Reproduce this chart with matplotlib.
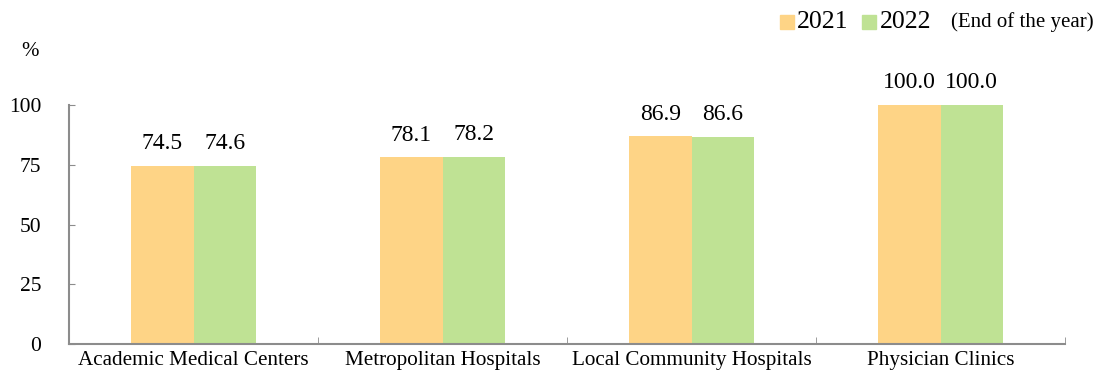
import matplotlib
matplotlib.use("Agg")
import matplotlib.pyplot as plt
import numpy as np
from matplotlib.patches import Rectangle

categories = ["Academic Medical Centers", "Metropolitan Hospitals",
              "Local Community Hospitals", "Physician Clinics"]
values_2021 = [74.5, 78.1, 86.9, 100.0]
values_2022 = [74.6, 78.2, 86.6, 100.0]
series_labels = ["2021", "2022"]
y_ticks = [0, 25, 50, 75, 100]

c2021 = "#FED486"
c2022 = "#BFE294"
spine_c = "#8C8C8C"

plt.rcParams['font.family'] = ['Liberation Serif', 'DejaVu Serif']

fig = plt.figure(figsize=(11.02, 3.73), dpi=100)
ax = fig.add_axes([69/1102, 29/373, (1065-69)/1102, (344-105)/373])

x = np.arange(len(categories))
w = 0.25
b1 = ax.bar(x - w/2, values_2021, w, color=c2021, label=series_labels[0])
b2 = ax.bar(x + w/2, values_2022, w, color=c2022, label=series_labels[1])

for bars, vals in ((b1, values_2021), (b2, values_2022)):
    for r, v in zip(bars, vals):
        ax.annotate(f"{v:.1f}", (r.get_x() + r.get_width()/2, v),
                    xytext=(0, 8.5), textcoords="offset points",
                    ha="center", va="bottom", fontsize=17)

ax.set_xlim(-0.5, len(categories) - 0.5)
ax.set_ylim(0, 100)
ax.set_yticks(y_ticks)
ax.set_yticklabels([str(t) for t in y_ticks], fontsize=15.5)
ax.tick_params(axis='y', direction='in', length=4, color=spine_c, pad=20)

ax.set_xticks(x)
ax.set_xticklabels(categories, fontsize=15.2)
ax.tick_params(axis='x', length=0, pad=5)
# boundary ticks between categories
ax.set_xticks(np.arange(len(categories) + 1) - 0.5, minor=True)
ax.tick_params(axis='x', which='minor', direction='in', length=5, color=spine_c)

for s in ['top', 'right']:
    ax.spines[s].set_visible(False)
for s in ['left', 'bottom']:
    ax.spines[s].set_color(spine_c)
    ax.spines[s].set_linewidth(1.5)

fig.text(30/1102, 1 - 52/373, "%", fontsize=15, ha="center", va="center")

# legend
fig.patches.append(Rectangle((780/1102, 1 - 29/373), 14/1102, 14/373,
                             transform=fig.transFigure, color=c2021))
fig.text(797/1102, 1 - 22/373, series_labels[0], fontsize=18.5, va="center")
fig.patches.append(Rectangle((862/1102, 1 - 29/373), 14/1102, 14/373,
                             transform=fig.transFigure, color=c2022))
fig.text(880/1102, 1 - 22/373, series_labels[1], fontsize=18.5, va="center")
fig.text(951/1102, 1 - 22/373, "(End of the year)", fontsize=15, va="center")

fig.savefig("out.png", dpi=100)
